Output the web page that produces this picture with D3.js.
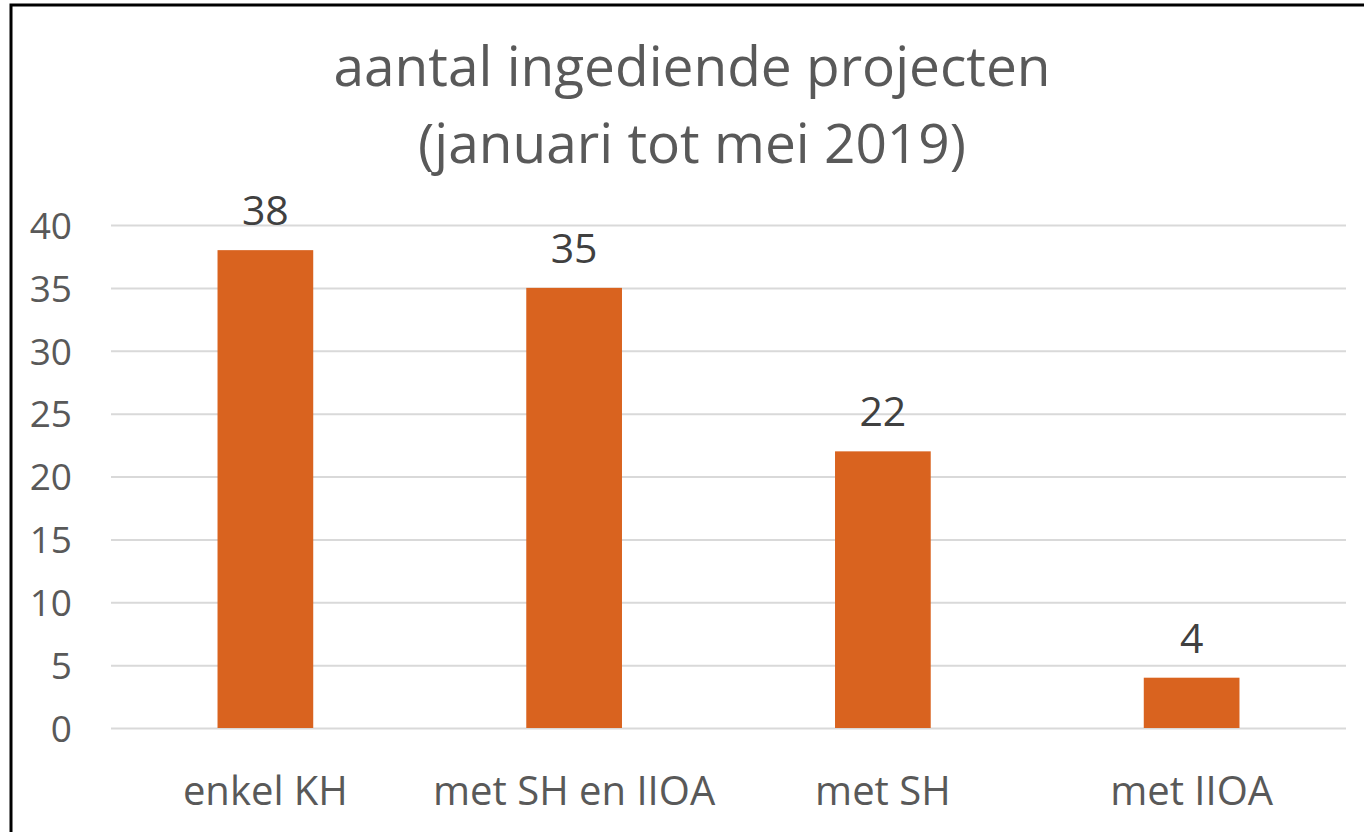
<!DOCTYPE html>
<html><head><meta charset="utf-8">
<script src="https://cdn.jsdelivr.net/npm/d3@7"></script>
<style>body{margin:0;background:#fff;}svg{display:block;font-family:"Open Sans",sans-serif;}</style>
</head><body>
<svg id="c" width="1364" height="832"></svg>
<script>
const categories = ["enkel KH","met SH en IIOA","met SH","met IIOA"];
const values = [38,35,22,4];
const yTicks = [0,5,10,15,20,25,30,35,40];
const titleLines = ["aantal ingediende projecten","(januari tot mei 2019)"];

(function(){
const svg = d3.select("#c");
svg.append("rect").attr("x",11).attr("y",5).attr("width",1400).attr("height",900)
  .attr("fill","#fff").attr("stroke","#000").attr("stroke-width",3);

const pL=111, pR=1346, pT=225, pB=728;
const x = d3.scaleBand().domain(categories).range([pL,pR]).paddingInner(0.69).paddingOuter(0.345);
const y = d3.scaleLinear().domain([0,40]).range([pB,pT]);

const yAxis = svg.append("g").attr("transform",`translate(${pL},0)`)
  .call(d3.axisLeft(y).tickValues(yTicks).tickSize(-(pR-pL)).tickPadding(39));
yAxis.select(".domain").remove();
yAxis.selectAll(".tick line").attr("stroke","#d9d9d9").attr("stroke-width",2);
yAxis.selectAll(".tick text").attr("fill","#595959").attr("font-size",37).attr("font-family","Open Sans").attr("dy","0.36em");

svg.selectAll("rect.bar").data(values).join("rect").attr("class","bar")
  .attr("x",(d,i)=>x(categories[i])).attr("width",x.bandwidth())
  .attr("y",d=>y(d)).attr("height",d=>pB-y(d)).attr("fill","#D9631F");

svg.selectAll("text.lbl").data(values).join("text").attr("class","lbl")
  .attr("x",(d,i)=>x(categories[i])+x.bandwidth()/2).attr("y",d=>y(d)-25)
  .attr("text-anchor","middle").attr("fill","#404040").attr("font-size",41).text(d=>d);

const xAxis = svg.append("g").attr("transform",`translate(0,${pB})`)
  .call(d3.axisBottom(x).tickSize(0).tickPadding(0));
xAxis.select(".domain").remove();
xAxis.selectAll(".tick text").attr("fill","#595959").attr("font-size",40).attr("font-family","Open Sans").attr("dy",0).attr("y",77);

svg.selectAll("text.title").data(titleLines).join("text").attr("class","title")
  .attr("x",692).attr("y",(d,i)=>86+i*77).attr("text-anchor","middle")
  .attr("fill","#595959").attr("font-size",55).text(d=>d);
})();
</script>
</body></html>
